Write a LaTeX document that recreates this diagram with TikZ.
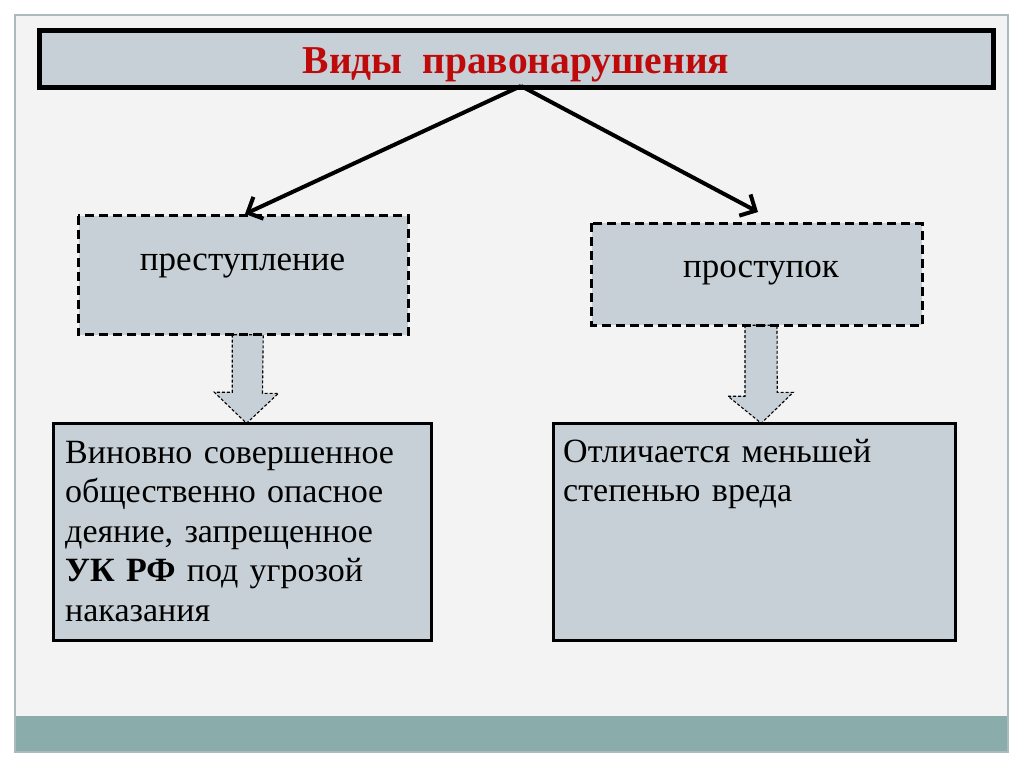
\documentclass[tikz,border=0pt]{standalone}
\usepackage{fontspec}
\setmainfont{Liberation Serif}
\usetikzlibrary{arrows.meta}
\definecolor{boxgray}{RGB}{199,208,214}
\definecolor{slidebg}{RGB}{243,243,243}
\definecolor{framecol}{RGB}{170,186,190}
\definecolor{tealbar}{RGB}{138,172,170}
\definecolor{titlered}{RGB}{190,10,10}
\tikzset{
  titlebox/.style={draw=black, line width=5pt, fill=boxgray, inner sep=0pt},
  boxfill/.style={fill=boxgray, inner sep=0pt},
  dashborder/.style={draw=black, line width=3pt, dash pattern=on 9pt off 5pt},
  solidborder/.style={draw=black, line width=3pt},
  blockarrow/.style={fill=boxgray, draw=black, line width=1.1pt, dash pattern=on 3pt off 2pt},
  linkarrow/.style={line width=4pt, -{Straight Barb[length=12pt,width=24pt,line width=4pt]}},
  headtext/.style={font=\fontsize{39.5}{44}\selectfont\bfseries, text=titlered, inner sep=0pt, anchor=base},
  midtext/.style={font=\fontsize{35}{40}\selectfont, inner sep=0pt, anchor=base},
  bodytext/.style={font=\fontsize{34}{39.5}\selectfont, inner sep=0pt, anchor=base west, align=left, text width=380pt}
}
\begin{document}
\begin{tikzpicture}[x=1pt,y=-1pt]
\useasboundingbox (0,0) rectangle (1024,767);
\fill[white] (0,0) rectangle (1024,767);
% slide
\fill[slidebg] (15,15) rectangle (1008,752);
\fill[tealbar] (15,716) rectangle (1008,752);
\draw[framecol, line width=1.2pt] (15,15) rectangle (1008,752);
% title
\node[titlebox, minimum width=953.5pt, minimum height=57pt] (title) at (516.25,59) {};
\node[headtext] (titletext) at (516,74) {Виды\ \ правонарушения};
% boxes (fill only)
\node[boxfill, minimum width=329.5pt, minimum height=118.5pt] (crime) at (243.25,275.25) {};
\node[boxfill, minimum width=330pt, minimum height=101.5pt] (offence) at (757,274.25) {};
\node[boxfill, minimum width=378pt, minimum height=216.5pt] (crimedef) at (242.5,531.75) {};
\node[boxfill, minimum width=401.5pt, minimum height=216.5pt] (offdef) at (754.25,531.75) {};
% block arrows
\draw[blockarrow] ([xshift=-11pt]crime.south) -- ++(0,57.5) -- ++(-18,0) -- ([xshift=4pt]crimedef.north) -- ++(32,-30) -- ++(-16,0) -- ([xshift=20pt]crime.south) -- cycle;
\draw[blockarrow] ([xshift=-12pt]offence.south) -- ++(0,71) -- ++(-17,0) -- ([xshift=7pt]offdef.north) -- ++(32,-31) -- ++(-16,0) -- ([xshift=20pt]offence.south) -- cycle;
% box borders
\draw[dashborder] (crime.north west) rectangle (crime.south east);
\draw[dashborder] (offence.north west) rectangle (offence.south east);
\draw[solidborder] (crimedef.north west) rectangle (crimedef.south east);
\draw[solidborder] (offdef.north west) rectangle (offdef.south east);
% connectors
\coordinate (apex) at (521,86);
\coordinate (tipL) at (245,214);
\coordinate (tipR) at (758,212);
\draw[linkarrow] (apex) -- (tipL);
\draw[linkarrow] (apex) -- (tipR);
% texts
\node[midtext] (crimetext) at (242.5,270) {преступление};
\node[midtext] (offtext) at (761,277) {проступок};
\node[bodytext] (crimedeftext) at (65,463) {Виновно совершенное\\общественно опасное\\деяние, запрещенное\\\textbf{УК РФ} под угрозой\\наказания};
\node[bodytext] (offdeftext) at (563,462) {Отличается меньшей\\степенью вреда};
\end{tikzpicture}
\end{document}
